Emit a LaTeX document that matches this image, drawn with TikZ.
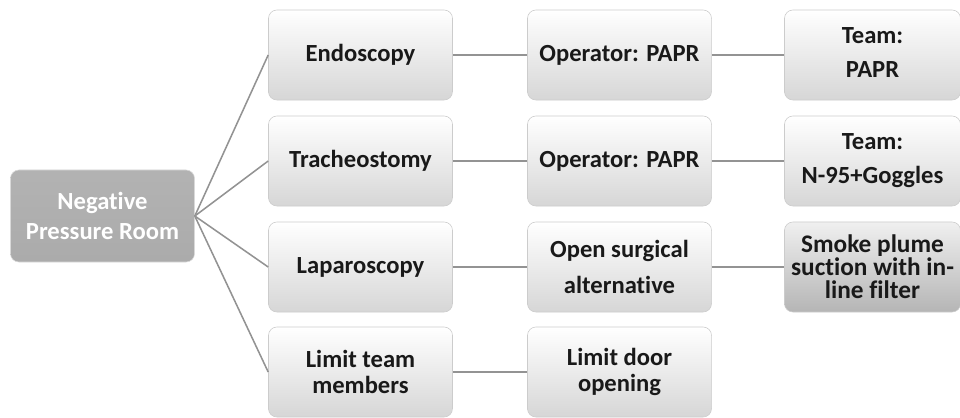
\documentclass[tikz,border=0pt]{standalone}
\usepackage{fontspec}
\setmainfont{Carlito}[Ligatures=NoCommon]
\begin{document}
\begin{tikzpicture}[x=0.025cm, y=-0.025cm,
  box/.style={draw=gray!40, rounded corners=6pt, top color=white, bottom color=gray!32,
    minimum width=4.6cm, minimum height=2.25cm, align=center, inner sep=2pt,
    font=\fontsize{17.5}{24}\selectfont\bfseries, text=black!90},
  rootbox/.style={box, top color=gray!60, bottom color=gray!66, draw=gray!30, text=white,
    font=\fontsize{17.5}{21}\selectfont\bfseries, minimum height=2.3cm},
  smokebox/.style={box, top color=gray!12, bottom color=gray!58,
    font=\fontsize{18}{16.5}\selectfont\bfseries},
  link/.style={draw=gray!85, line width=1.1pt}]
\useasboundingbox (0,0) rectangle (960,417);

\def\xr{102.5};
\def\xa{360.5};
\def\xb{619.5};
\def\xc{872.5};

\def\ya{55};
\def\yb{161};
\def\yc{267};
\def\yd{372};

% root
\node[rootbox] (room) at (\xr, 216) {Negative\\Pressure Room};

% first column
\node[box] (endo) at (\xa, \ya) {Endoscopy};
\node[box] (trach) at (\xa, \yb) {Tracheostomy};
\node[box] (lap) at (\xa, \yc) {Laparoscopy};
\node[box, font=\fontsize{17.5}{19}\selectfont\bfseries] (members) at (\xa, \yd) {Limit team\\members};

% second column
\node[box] (opendo) at (\xb, \ya) {Operator: PAPR};
\node[box] (optrach) at (\xb, \yb) {Operator: PAPR};
\node[box, font=\fontsize{17.5}{26}\selectfont\bfseries] (open) at (\xb, \yc) {Open surgical\\alternative};
\node[box, font=\fontsize{17.5}{19}\selectfont\bfseries] (door) at (\xb, \yd) {Limit door\\opening};

% third column
\node[box, minimum width=4.4cm, text depth=4pt] (teamendo) at (\xc, \ya) {Team:\\PAPR};
\node[box, minimum width=4.4cm, text depth=4pt] (teamtrach) at (\xc, \yb) {Team:\\N-95+Goggles};
\node[smokebox, minimum width=4.4cm] (smoke) at (\xc, \yc) {Smoke plume\\suction with in-\\line filter};

% links
\foreach \n in {endo, trach, lap, members}
  \draw[link] (room.east) -- (\n.west);
\draw[link] (endo) -- (opendo);
\draw[link] (trach) -- (optrach);
\draw[link] (lap) -- (open);
\draw[link] (members) -- (door);
\draw[link] (opendo) -- (teamendo);
\draw[link] (optrach) -- (teamtrach);
\draw[link] (open) -- (smoke);

\end{tikzpicture}
\end{document}
